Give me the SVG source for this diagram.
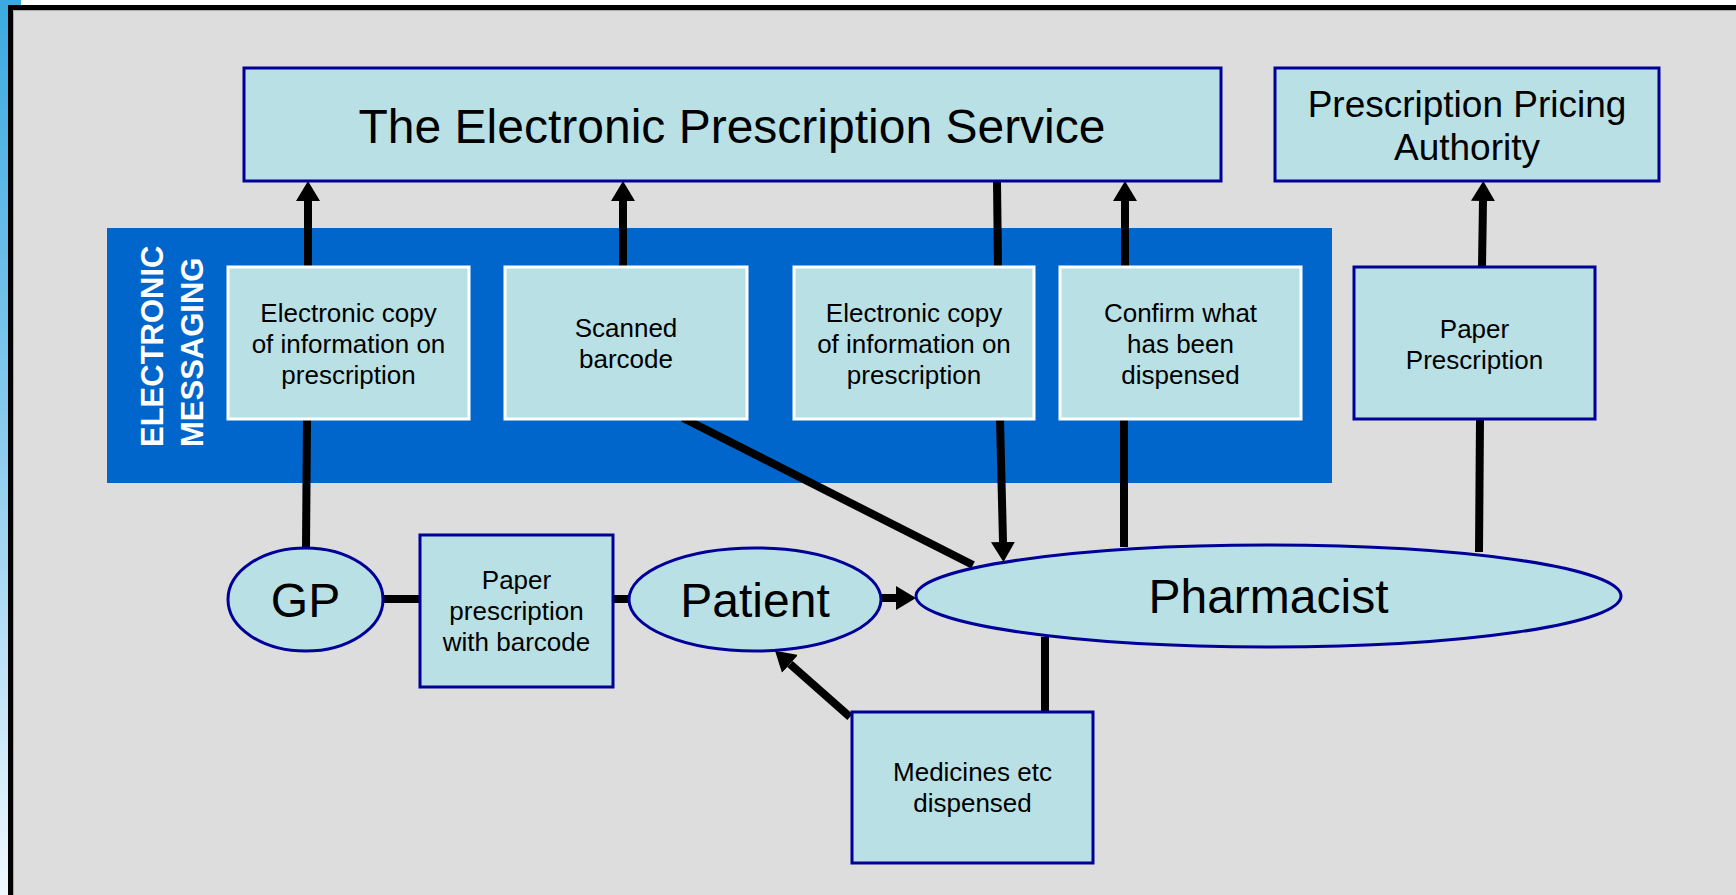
<svg xmlns="http://www.w3.org/2000/svg" width="1736" height="895" viewBox="0 0 1736 895">
<defs>
<linearGradient id="strip" x1="0" y1="0" x2="0" y2="1">
<stop offset="0" stop-color="#3AAAE0"/>
<stop offset="0.5" stop-color="#8CCCEE"/>
<stop offset="1" stop-color="#F0F8FF"/>
</linearGradient>
<marker id="ah" viewBox="0 0 20 24" refX="0" refY="12" markerWidth="20" markerHeight="24" markerUnits="userSpaceOnUse" orient="auto">
<path d="M0,0 L20,12 L0,24 Z" fill="#000"/>
</marker>
<style>
.box{fill:#B9E0E4;stroke:#000099;stroke-width:3}
.ibox{fill:#B9E0E4;stroke:#FFFFFF;stroke-width:3}
.ell{fill:#B9E0E4;stroke:#000099;stroke-width:3}
.t{font-family:"Liberation Sans",Arial,sans-serif;fill:#000;text-anchor:middle}
.s{font-size:26px}
.b{font-size:48px}
.m{font-size:37px}
.c{stroke:#000;stroke-width:8;fill:none}
.a{marker-end:url(#ah)}
.em{font-family:"Liberation Sans",Arial,sans-serif;font-weight:bold;font-size:31px;fill:#FFFFFF}
</style>
</defs>
<rect x="0" y="0" width="1736" height="895" fill="#FFFFFF"/>
<rect x="0" y="0" width="9" height="895" fill="url(#strip)"/>
<rect x="0" y="0" width="21" height="5" fill="#3AAAE0"/>
<rect x="10.5" y="7.5" width="1740" height="900" fill="#DDDDDD" stroke="#000" stroke-width="5"/>
<path d="M13.5,900 V10.5 H1736" fill="none" stroke="#AAAAAA" stroke-width="1"/>

<g id="electronic-messaging">
<rect x="107" y="228" width="1225" height="255" fill="#0066CC"/>
<text class="em" transform="translate(163,447) rotate(-90)">ELECTRONIC</text>
<text class="em" transform="translate(203,447) rotate(-90)">MESSAGING</text>
</g>

<g id="connectors">
<line class="c" x1="306" y1="548" x2="307" y2="419"/>
<line class="c a" x1="308" y1="267" x2="308" y2="201"/>
<line class="c a" x1="623" y1="267" x2="623" y2="201"/>
<line class="c" x1="997" y1="181" x2="998" y2="267"/>
<line class="c a" x1="1000" y1="419" x2="1003" y2="542"/>
<line class="c" x1="1124" y1="547" x2="1124" y2="419"/>
<line class="c a" x1="1125" y1="267" x2="1125" y2="201"/>
<line class="c" x1="1479" y1="552" x2="1480" y2="419"/>
<line class="c a" x1="1482" y1="267" x2="1483" y2="201"/>
<line class="c" x1="683" y1="418" x2="973" y2="565"/>
<line class="c" x1="383" y1="599" x2="420" y2="599"/>
<line class="c" x1="613" y1="599" x2="629" y2="599"/>
<line class="c a" x1="881" y1="598" x2="896" y2="598"/>
<line class="c" x1="1045" y1="637" x2="1045" y2="712"/>
<line class="c a" x1="850" y1="717" x2="790" y2="664"/>
</g>

<g id="eps">
<rect class="box" x="244" y="68" width="977" height="113"/>
<text class="t b" x="732" y="143">The Electronic Prescription Service</text>
</g>

<g id="ppa">
<rect class="box" x="1275" y="68" width="384" height="113"/>
<text class="t m" x="1467" y="117">Prescription Pricing</text>
<text class="t m" x="1467" y="160">Authority</text>
</g>

<g id="box-electronic-copy-1">
<rect class="ibox" x="228" y="267" width="241" height="152"/>
<text class="t s" x="348.5" y="322">Electronic copy</text>
<text class="t s" x="348.5" y="353">of information on</text>
<text class="t s" x="348.5" y="384">prescription</text>
</g>

<g id="box-scanned-barcode">
<rect class="ibox" x="505" y="267" width="242" height="152"/>
<text class="t s" x="626" y="337">Scanned</text>
<text class="t s" x="626" y="368">barcode</text>
</g>

<g id="box-electronic-copy-2">
<rect class="ibox" x="794" y="267" width="240" height="152"/>
<text class="t s" x="914" y="322">Electronic copy</text>
<text class="t s" x="914" y="353">of information on</text>
<text class="t s" x="914" y="384">prescription</text>
</g>

<g id="box-confirm">
<rect class="ibox" x="1060" y="267" width="241" height="152"/>
<text class="t s" x="1180.5" y="322">Confirm what</text>
<text class="t s" x="1180.5" y="353">has been</text>
<text class="t s" x="1180.5" y="384">dispensed</text>
</g>

<g id="box-paper-prescription">
<rect class="box" x="1354" y="267" width="241" height="152"/>
<text class="t s" x="1474.5" y="338">Paper</text>
<text class="t s" x="1474.5" y="369">Prescription</text>
</g>

<g id="gp">
<ellipse class="ell" cx="305.5" cy="599.5" rx="77.5" ry="51.5"/>
<text class="t b" x="305.5" y="617">GP</text>
</g>

<g id="box-paper-barcode">
<rect class="box" x="420" y="535" width="193" height="152"/>
<text class="t s" x="516.5" y="589">Paper</text>
<text class="t s" x="516.5" y="620">prescription</text>
<text class="t s" x="516.5" y="651">with barcode</text>
</g>

<g id="patient">
<ellipse class="ell" cx="755" cy="599.5" rx="126" ry="51.5"/>
<text class="t b" x="755" y="617">Patient</text>
</g>

<g id="pharmacist">
<ellipse class="ell" cx="1268.5" cy="596" rx="352.5" ry="51"/>
<text class="t b" x="1268.5" y="613">Pharmacist</text>
</g>

<g id="box-medicines">
<rect class="box" x="852" y="712" width="241" height="151"/>
<text class="t s" x="972.5" y="781">Medicines etc</text>
<text class="t s" x="972.5" y="812">dispensed</text>
</g>
</svg>
